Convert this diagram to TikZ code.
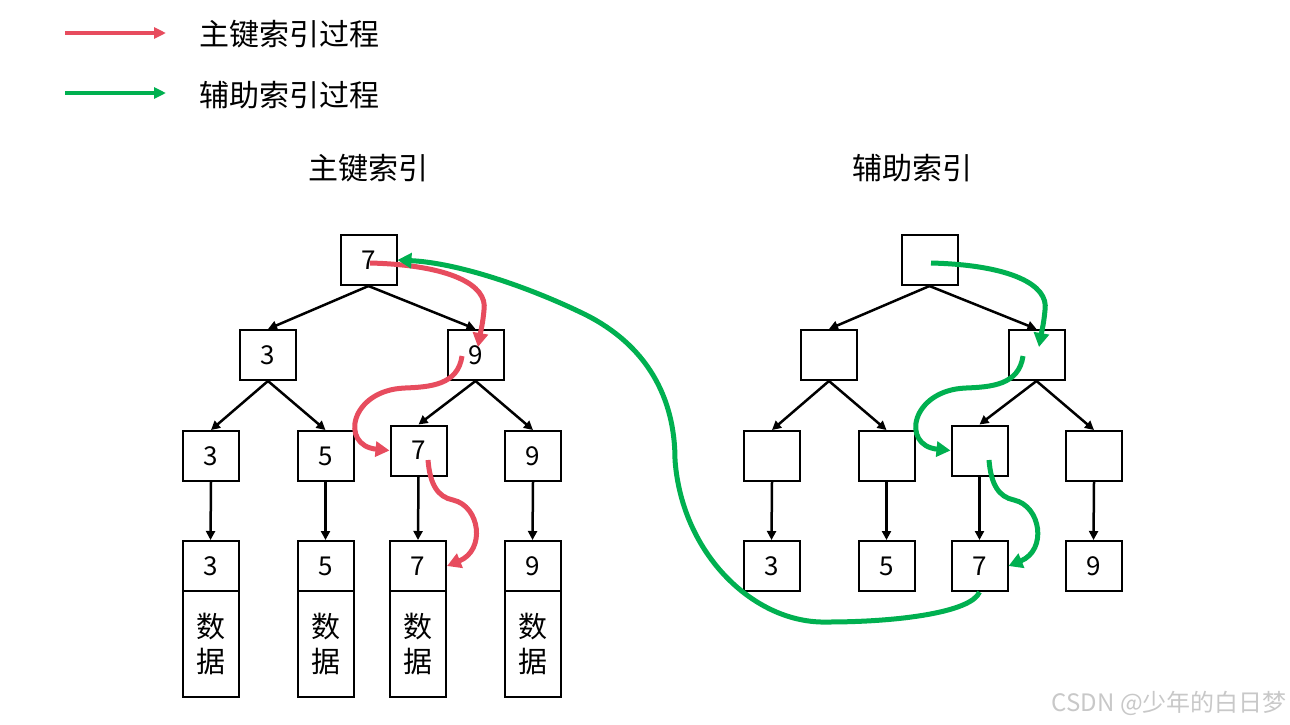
\documentclass[tikz,border=0pt]{standalone}
\usepackage{fontspec}
\setmainfont{Noto Sans CJK SC}
\usetikzlibrary{arrows.meta,calc}
\definecolor{kred}{RGB}{231,76,94}
\definecolor{kgreen}{RGB}{0,176,80}
\definecolor{wmgray}{RGB}{200,200,200}
\begin{document}
\begin{tikzpicture}[x=1pt,y=-1pt,
  box/.style={draw, line width=2pt, minimum width=56pt, minimum height=50pt, inner sep=0pt, font=\fontsize{26}{30}\selectfont},
  databox/.style={draw, line width=2pt, minimum width=56pt, minimum height=106pt, inner sep=0pt, align=center, font=\fontsize{29}{35}\selectfont},
  txtlbl/.style={inner sep=0pt, font=\fontsize{30}{36}\selectfont},
  treearrow/.style={line width=2.5pt, -{Triangle[length=9pt,width=9pt]}},
  walk/.style={line width=5pt, -{Triangle[length=14pt,width=15pt]}},
  legarrow/.style={line width=4pt, -{Triangle[length=12pt,width=11pt]}},
]
\useasboundingbox (0,0) rectangle (1290,724);

% legend
\coordinate (lr1) at (65,33);
\coordinate (lr2) at (166,33);
\coordinate (lg1) at (65,93);
\coordinate (lg2) at (166,93);
\draw[legarrow, color=kred] (lr1) -- (lr2);
\draw[legarrow, color=kgreen] (lg1) -- (lg2);
\node[txtlbl, anchor=west] (leg1) at (199,34) {主键索引过程};
\node[txtlbl, anchor=west] (leg2) at (199,95) {辅助索引过程};

% titles
\node[txtlbl] (title1) at (368.5,168) {主键索引};
\node[txtlbl] (title2) at (912.5,168) {辅助索引};

% left tree (primary index)
\node[box] (L-r)  at (368.5,260) {7};
\node[box] (L-a)  at (268,355) {3};
\node[box] (L-b)  at (475.5,355) {9};
\node[box] (L-aa) at (211,456) {3};
\node[box] (L-ab) at (325.5,456) {5};
\node[box] (L-ba) at (418.5,450.5) {7};
\node[box] (L-bb) at (533,456) {9};
\node[box] (L-k3) at (210.5,566) {3};
\node[box] (L-k5) at (325.5,566) {5};
\node[box] (L-k7) at (418,566) {7};
\node[box] (L-k9) at (532.5,566) {9};
\node[databox] (L-d3) at (210.5,644) {数\\据};
\node[databox] (L-d5) at (325.5,644) {数\\据};
\node[databox] (L-d7) at (418,644) {数\\据};
\node[databox] (L-d9) at (532.5,644) {数\\据};

% right tree (secondary index)
\node[box] (R-r)  at (929.5,260) {};
\node[box] (R-a)  at (829,355) {};
\node[box] (R-b)  at (1036.5,355) {};
\node[box] (R-aa) at (772,456) {};
\node[box] (R-ab) at (886.5,456) {};
\node[box] (R-ba) at (979.5,450.5) {};
\node[box] (R-bb) at (1094,456) {};
\node[box] (R-k3) at (771.5,566) {3};
\node[box] (R-k5) at (886.5,566) {5};
\node[box] (R-k7) at (979.5,566) {7};
\node[box] (R-k9) at (1093.5,566) {9};

% tree edges
\foreach \s in {L,R} {
  \draw[treearrow] (\s-r.south) -- (\s-a.north);
  \draw[treearrow] (\s-r.south) -- (\s-b.north);
  \draw[treearrow] (\s-a.south) -- (\s-aa.north);
  \draw[treearrow] (\s-a.south) -- (\s-ab.north);
  \draw[treearrow] (\s-b.south) -- (\s-ba.north);
  \draw[treearrow] (\s-b.south) -- (\s-bb.north);
  \draw[treearrow] (\s-aa.south) -- (\s-k3.north);
  \draw[treearrow] (\s-ab.south) -- (\s-k5.north);
  \draw[treearrow] (\s-ba.south) -- (\s-k7.north);
  \draw[treearrow] (\s-bb.south) -- (\s-k9.north);
}

% search walks
\foreach \s/\c in {L/kred, R/kgreen} {
  \draw[walk, color=\c] ($(\s-r)+(1.5,3)$) .. controls +(80,2) and +(4,-25) .. ($(\s-r)+(115.5,50)$)
        .. controls +(-1,12) and +(3,-17) .. ($(\s-b)+(2.5,-8)$);
  \draw[walk, color=\c] ($(\s-b)+(-13.5,1)$) .. controls +(-4,29) and +(25,-1) .. ($(\s-b)+(-70.5,33)$)
        .. controls +(-55,2) and +(-50,-5) .. (\s-ba.west);
  \draw[walk, color=\c] ($(\s-ba)+(9.5,9.5)$) .. controls +(2,25) and +(-15,-3) .. ($(\s-ba)+(34.5,49.5)$)
        .. controls +(27,6) and +(39,-16) .. (\s-k7.east);
}

% back to primary index
\draw[walk, color=kgreen] (R-k7.south) .. controls +(-8,20) and +(73,0) .. (827,622)
      .. controls +(-72,2) and +(7,95) .. (675,460)
      .. controls +(0,-70) and +(60,28) .. (580,312)
      .. controls +(-50,-24) and +(62,3) .. (L-r.east);

% watermark
\node[inner sep=0pt, anchor=east, text=wmgray, font=\fontsize{24}{28}\selectfont] (wm) at (1287,703) {CSDN @少年的白日梦};
\end{tikzpicture}
\end{document}
